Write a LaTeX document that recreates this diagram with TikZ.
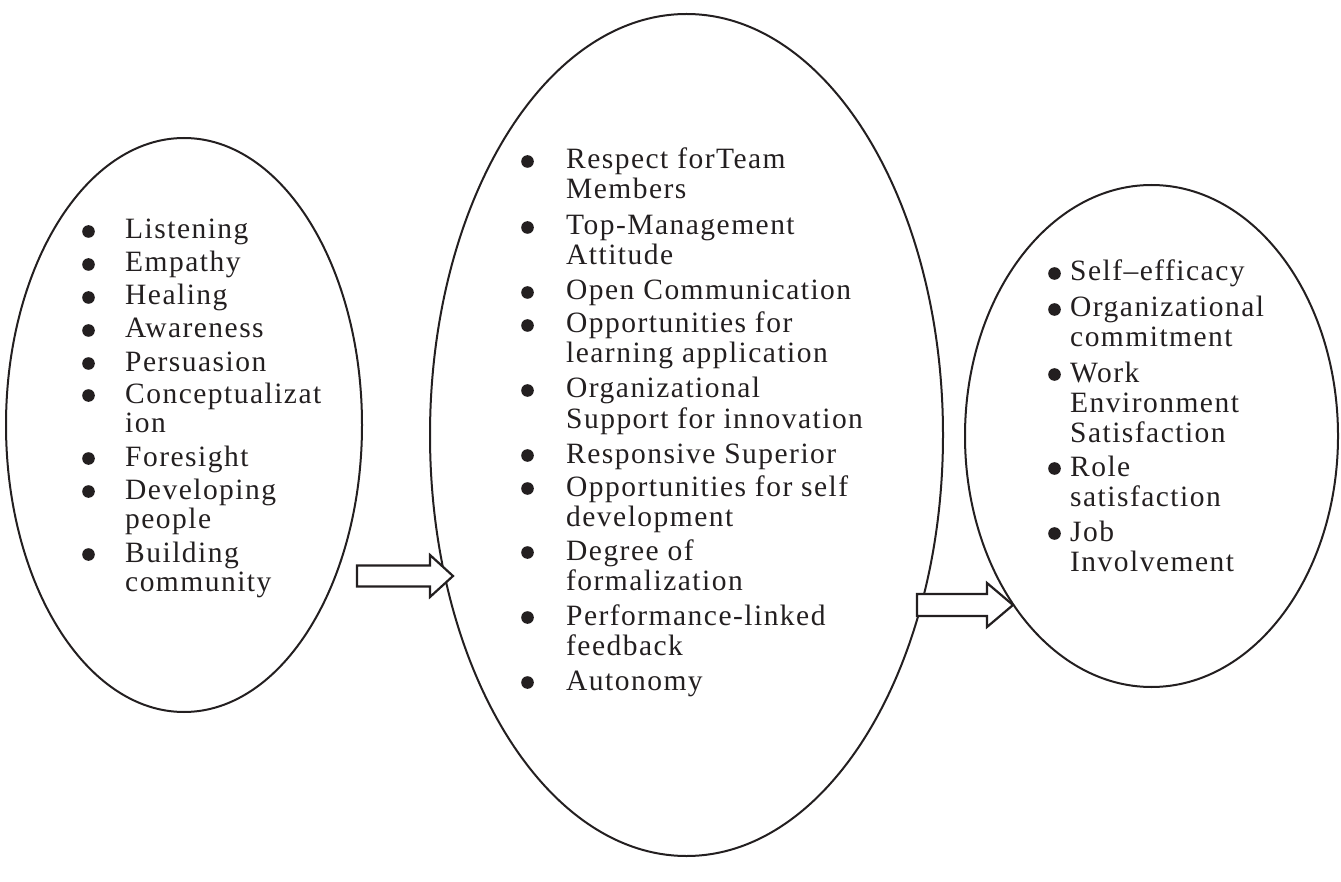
\documentclass[tikz,border=0pt]{standalone}
\usepackage{fontspec}
\setmainfont{Liberation Serif}[LetterSpace=5]
\usetikzlibrary{shapes.geometric}
\definecolor{ink}{RGB}{35,31,32}
\newcommand\bdot{\tikz[baseline=0pt]\fill[ink] (0pt,7.5pt) circle[radius=6.3pt];}
\newcommand\bul[3]{\parbox[t]{400pt}{\hangindent=#1\hangafter=1\noindent\makebox[#1][l]{\hspace{#2}\bdot}#3}}
\tikzset{
  ell/.style={ellipse, draw=ink, line width=2pt, inner sep=0pt},
  itm/.style={anchor=base west, inner sep=0pt, text=ink, font=\fontsize{29.5}{30}\selectfont},
  itml/.style={itm, font=\fontsize{29.5}{29}\selectfont},
  barrow/.style={draw=ink, fill=white, line width=2.2pt, line join=miter},
}
\begin{document}
\begin{tikzpicture}[x=1pt,y=-1pt]
\useasboundingbox (0,0) rectangle (1341,882);
% ellipses
\node[ell, minimum width=356pt, minimum height=574pt] (L) at (184,425) {};
\node[ell, minimum width=513pt, minimum height=842pt] (M) at (686.5,435) {};
\node[ell, minimum width=373pt, minimum height=502pt] (R) at (1151.5,436) {};
% left items
\node[itml] (l1) at (82,239) {\bul{43pt}{0pt}{Listening}};
\node[itml] (l2) at (82,272) {\bul{43pt}{0pt}{Empathy}};
\node[itml] (l3) at (82,305) {\bul{43pt}{0pt}{Healing}};
\node[itml] (l4) at (82,338) {\bul{43pt}{0pt}{Awareness}};
\node[itml] (l5) at (82,371) {\bul{43pt}{0pt}{Persuasion}};
\node[itml] (l6) at (82,403) {\bul{43pt}{0pt}{Conceptualizat\\ion}};
\node[itml] (l7) at (82,466) {\bul{43pt}{0pt}{Foresight}};
\node[itml] (l8) at (82,499) {\bul{43pt}{0pt}{Developing\\people}};
\node[itml] (l9) at (82,562) {\bul{43pt}{0pt}{Building\\community}};
% middle items
\node[itm] (m1) at (521,169) {\bul{45pt}{0pt}{Respect forTeam\\Members}};
\node[itm] (m2) at (521,235) {\bul{45pt}{0pt}{Top-Management\\Attitude}};
\node[itm] (m3) at (521,300) {\bul{45pt}{0pt}{Open Communication}};
\node[itm] (m4) at (521,333) {\bul{45pt}{0pt}{Opportunities for\\learning application}};
\node[itm] (m5) at (521,398) {\bul{45pt}{0pt}{Organizational\\Support for innovation}};
\node[itm] (m6) at (521,463) {\bul{45pt}{0pt}{Responsive Superior}};
\node[itm] (m7) at (521,496) {\bul{45pt}{0pt}{Opportunities for self\\development}};
\node[itm] (m8) at (521,560) {\bul{45pt}{0pt}{Degree of\\formalization}};
\node[itm] (m9) at (521,625) {\bul{45pt}{0pt}{Performance-linked\\feedback}};
\node[itm] (m10) at (521,690) {\bul{45pt}{0pt}{Autonomy}};
% right items
\node[itm] (r1) at (1048,281) {\bul{22pt}{0pt}{Self–efficacy}};
\node[itm] (r2) at (1048,317) {\bul{22pt}{0pt}{Organizational\\commitment}};
\node[itm] (r3) at (1048,382) {\bul{22pt}{0pt}{Work\\Environment\\Satisfaction}};
\node[itm] (r4) at (1048,476) {\bul{22pt}{0pt}{Role\\satisfaction}};
\node[itm] (r5) at (1048,541) {\bul{22pt}{0pt}{Job\\Involvement}};
% block arrows
\coordinate (a1) at (357,576);
\draw[barrow] (a1) ++(0,-10.5) -- ++(73,0) -- ++(0,-10.5) -- ++(23,21) -- ++(-23,21) -- ++(0,-10.5) -- ++(-73,0) -- cycle;
\coordinate (a2) at (917,605);
\draw[barrow] (a2) ++(0,-11) -- ++(70,0) -- ++(0,-11) -- ++(26,22) -- ++(-26,22) -- ++(0,-11) -- ++(-70,0) -- cycle;
\end{tikzpicture}
\end{document}
